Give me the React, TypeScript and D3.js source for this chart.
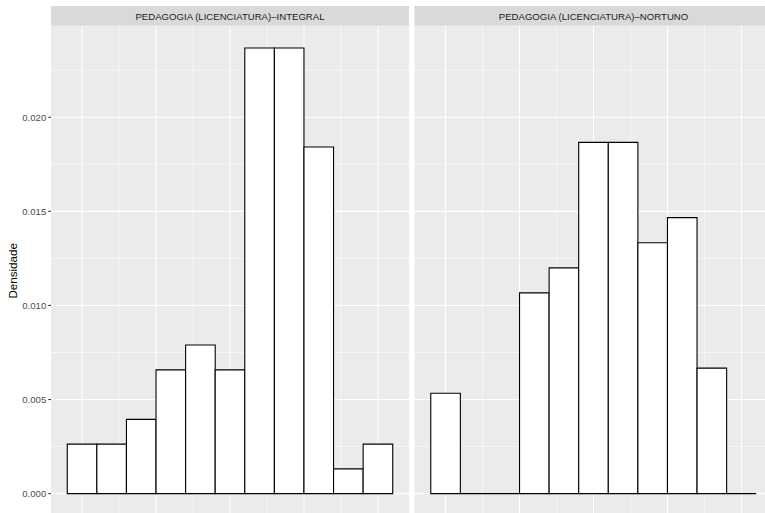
import React from "react";
import * as d3 from "d3";

const panels = ["PEDAGOGIA (LICENCIATURA)–INTEGRAL", "PEDAGOGIA (LICENCIATURA)–NORTUNO"];
const binCenters = [0, 10, 20, 30, 40, 50, 60, 70, 80, 90, 100];
const binWidth = 10;
const densityIntegral = [0.002632, 0.002632, 0.003947, 0.006579, 0.007895, 0.006579, 0.023684, 0.023684, 0.018421, 0.001316, 0.002632];
const densityNoturno = [0.005333, 0, 0, 0.010667, 0.012, 0.018667, 0.018667, 0.013333, 0.014667, 0.006667, 0];
const yTicks = [0, 0.005, 0.01, 0.015, 0.02];
const yMinor = [0.0025, 0.0075, 0.0125, 0.0175, 0.0225];
const xMajor = [0, 25, 50, 75, 100];
const xMinor = [12.5, 37.5, 62.5, 87.5];
const yLabel = "Densidade";

const series = [densityIntegral, densityNoturno];

export default function App() {
  const W = 765, H = 513;
  const panelLeft = [51, 414.5];
  const panelW = 358;
  const top = 25.7, bottom = 515.9;
  const stripTop = 6;

  const xmin = binCenters[0] - binWidth / 2;
  const xmax = binCenters[binCenters.length - 1] + binWidth / 2;
  const xpad = (xmax - xmin) * 0.05;
  const ymax = d3.max(series.flat()) as number;
  const ypad = ymax * 0.05;
  const y = d3.scaleLinear().domain([-ypad, ymax + ypad]).range([bottom, top]);

  const font = "'Liberation Sans', Arial, Helvetica, sans-serif";

  return (
    <svg width={W} height={H} style={{ position: "absolute", left: 0, top: 0, background: "#fff" }}>
      <rect x={0} y={0} width={W} height={H} fill="#fff" />
      {panels.map((name, pi) => {
        const x = d3.scaleLinear().domain([xmin - xpad, xmax + xpad]).range([panelLeft[pi], panelLeft[pi] + panelW]);
        const data = series[pi];
        return (
          <g key={name}>
            <rect x={panelLeft[pi]} y={top} width={panelW} height={bottom - top} fill="#EBEBEB" />
            {yMinor.map((t) => (
              <line key={"ym" + t} x1={panelLeft[pi]} x2={panelLeft[pi] + panelW} y1={y(t)} y2={y(t)} stroke="#fff" strokeWidth={0.55} />
            ))}
            {xMinor.map((t) => (
              <line key={"xm" + t} x1={x(t)} x2={x(t)} y1={top} y2={bottom} stroke="#fff" strokeWidth={0.55} />
            ))}
            {yTicks.map((t) => (
              <line key={"yM" + t} x1={panelLeft[pi]} x2={panelLeft[pi] + panelW} y1={y(t)} y2={y(t)} stroke="#fff" strokeWidth={1.07} />
            ))}
            {xMajor.map((t) => (
              <line key={"xM" + t} x1={x(t)} x2={x(t)} y1={top} y2={bottom} stroke="#fff" strokeWidth={1.07} />
            ))}
            {data.map((d, i) => {
              const x0 = x(binCenters[i] - binWidth / 2);
              const x1 = x(binCenters[i] + binWidth / 2);
              const p = d3.path();
              p.moveTo(x0, y(0));
              p.lineTo(x0, y(d));
              p.lineTo(x1, y(d));
              p.lineTo(x1, y(0));
              p.closePath();
              return <path key={i} d={p.toString()} fill="#fff" stroke="#000" strokeWidth={1.1} />;
            })}
            <rect x={panelLeft[pi]} y={stripTop} width={panelW} height={top - stripTop} fill="#D9D9D9" />
            <text x={panelLeft[pi] + panelW / 2} y={(stripTop + top) / 2 + 0.3} textAnchor="middle" dominantBaseline="central" fontFamily={font} fontSize={9.6} fill="#1A1A1A">
              {name}
            </text>
          </g>
        );
      })}
      {yTicks.map((t) => (
        <g key={"yt" + t}>
          <line x1={48.3} x2={51} y1={y(t)} y2={y(t)} stroke="#333" strokeWidth={1.07} />
          <text x={46.3} y={y(t)} textAnchor="end" dominantBaseline="central" fontFamily={font} fontSize={9.6} fill="#4D4D4D">
            {d3.format(".3f")(t)}
          </text>
        </g>
      ))}
      <text transform={`translate(12,${(top + bottom) / 2}) rotate(-90)`} textAnchor="middle" dominantBaseline="central" fontFamily={font} fontSize={11.6} fill="#000">
        {yLabel}
      </text>
    </svg>
  );
}
